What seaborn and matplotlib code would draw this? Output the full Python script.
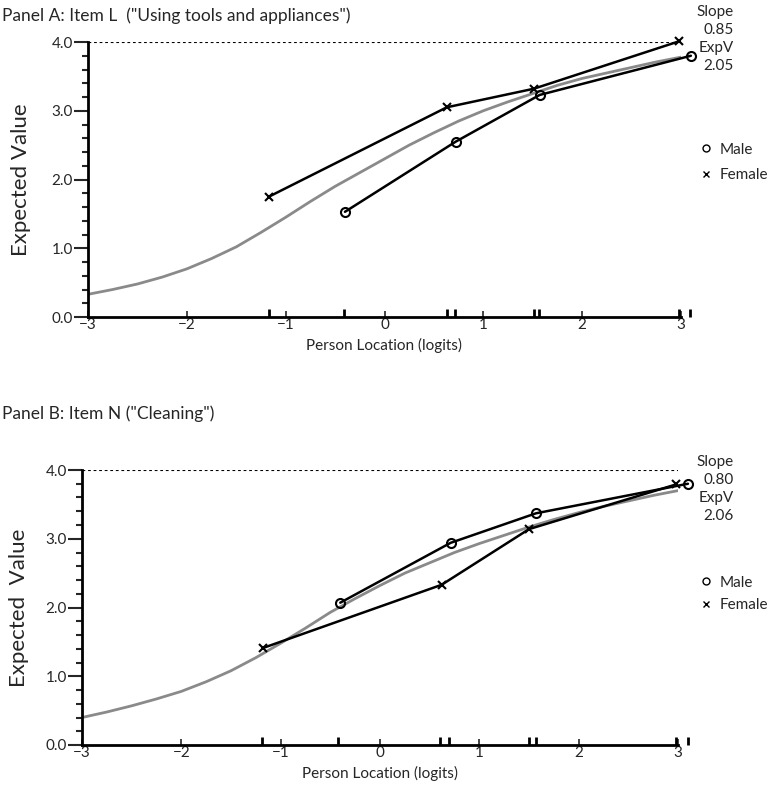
import matplotlib
matplotlib.use("Agg")
import matplotlib.pyplot as plt
import seaborn as sns
from matplotlib.lines import Line2D
from matplotlib.ticker import MultipleLocator, FormatStrFormatter

# Datos
curva_x = [-3, -2.75, -2.5, -2.25, -2, -1.75, -1.5, -1.25, -1, -0.75, -0.5, -0.25,
           0, 0.25, 0.5, 0.75, 1, 1.25, 1.5, 1.75, 2, 2.25, 2.5, 2.75, 3]
curva_a = [0.33, 0.40, 0.48, 0.58, 0.70, 0.85, 1.02, 1.23, 1.45, 1.68, 1.90, 2.10,
           2.30, 2.50, 2.68, 2.85, 3.00, 3.13, 3.25, 3.37, 3.47, 3.55, 3.63, 3.71, 3.78]
curva_b = [0.40, 0.48, 0.57, 0.67, 0.78, 0.92, 1.08, 1.27, 1.48, 1.70, 1.93, 2.13,
           2.32, 2.50, 2.65, 2.80, 2.93, 3.05, 3.17, 3.28, 3.38, 3.47, 3.55, 3.63, 3.70]

male_x_a = [-0.40, 0.72, 1.57, 3.10]
male_y_a = [1.53, 2.55, 3.23, 3.80]
female_x_a = [-1.17, 0.63, 1.51, 2.98]
female_y_a = [1.75, 3.05, 3.32, 4.01]

male_x_b = [-0.40, 0.71, 1.57, 3.10]
male_y_b = [2.07, 2.94, 3.37, 3.80]
female_x_b = [-1.18, 0.62, 1.50, 2.98]
female_y_b = [1.41, 2.33, 3.14, 3.79]

intervalos_a = [-1.17, -0.41, 0.63, 0.71, 1.51, 1.56, 2.98, 3.09]
intervalos_b = [-1.19, -0.42, 0.60, 0.69, 1.50, 1.57, 2.98, 3.10]

titulo_a = 'Panel A: Item L  ("Using tools and appliances")'
titulo_b = 'Panel B: Item N ("Cleaning")'
slope_a, expv_a = "0.85", "2.05"
slope_b, expv_b = "0.80", "2.06"

sns.set_style("ticks")
plt.rcParams["font.family"] = ["Lato", "DejaVu Sans"]

fig = plt.figure(figsize=(7.69, 7.87), dpi=100)
W, H = 769, 787


def panel(ax, curva, mx, my, fx, fy, intervalos, ylabel):
    sns.lineplot(x=curva_x, y=curva, ax=ax, color="#8a8a8a", lw=2.0)
    sns.lineplot(x=fx, y=fy, ax=ax, color="black", lw=1.8, marker="x",
                 markersize=6, mew=1.5, mec="black", clip_on=False)
    sns.lineplot(x=mx, y=my, ax=ax, color="black", lw=1.8, marker="o",
                 markersize=6.5, mfc="none", mew=1.5, mec="black", clip_on=False)
    ax.axhline(4.0, color="black", lw=0.8, ls=(0, (2.5, 2.5)))
    ax.vlines(intervalos, 0, 0.12, color="black", lw=2, clip_on=False)
    ax.set_xlim(-3, 3)
    ax.set_ylim(0, 4)
    ax.set_xticks(range(-3, 4))
    ax.yaxis.set_major_locator(MultipleLocator(1.0))
    ax.yaxis.set_minor_locator(MultipleLocator(0.2))
    ax.yaxis.set_major_formatter(FormatStrFormatter("%.1f"))
    ax.tick_params(axis="y", which="major", length=10, width=1.5, labelsize=11, pad=1)
    ax.tick_params(axis="y", which="minor", length=4, width=1.5)
    ax.tick_params(axis="x", direction="in", length=4, width=1.2, labelsize=11, pad=1)
    for s in ["top", "right"]:
        ax.spines[s].set_visible(False)
    for s in ["left", "bottom"]:
        ax.spines[s].set_linewidth(2)
        ax.spines[s].set_color("black")
    ax.set_xlabel("Person Location (logits)", fontsize=11)
    ax.set_ylabel(ylabel, fontsize=16)
    ax.xaxis.set_label_coords(0.5, -0.075)


axA = fig.add_axes([88 / W, 1 - 317 / H, 593 / W, 275 / H])
panel(axA, curva_a, male_x_a, male_y_a, female_x_a, female_y_a, intervalos_a, "Expected Value")
axA.yaxis.set_label_coords(-0.096, 0.5)

axB = fig.add_axes([82 / W, 1 - 745 / H, 596 / W, 275 / H])
panel(axB, curva_b, male_x_b, male_y_b, female_x_b, female_y_b, intervalos_b, "Expected  Value")
axB.yaxis.set_label_coords(-0.089, 0.5)

fig.text(2 / W, 1 - 16 / H, titulo_a, fontsize=12.5, va="center")
fig.text(2 / W, 1 - 414 / H, titulo_b, fontsize=12.5, va="center")

for y0, sl, ev in [(5, slope_a, expv_a), (455, slope_b, expv_b)]:
    fig.text(734 / W, 1 - y0 / H, "Slope\n" + sl + "\nExpV\n" + ev, fontsize=11,
             ha="right", va="top", multialignment="right", linespacing=1.35)

handles = [Line2D([], [], ls="none", marker="o", mfc="none", mec="black", markersize=5, mew=1),
           Line2D([], [], ls="none", marker="x", mec="black", markersize=5, mew=1)]
for ax, y0, esp in [(axA, 135, 0.75), (axB, 568, 0.55)]:
    fig.legend(handles, ["Male", "Female"], loc="upper left", frameon=False,
               bbox_to_anchor=(692 / W, 1 - y0 / H), fontsize=11,
               handlelength=0.8, handletextpad=0.5, labelspacing=esp, borderpad=0)

fig.savefig("out.png", dpi=100)
